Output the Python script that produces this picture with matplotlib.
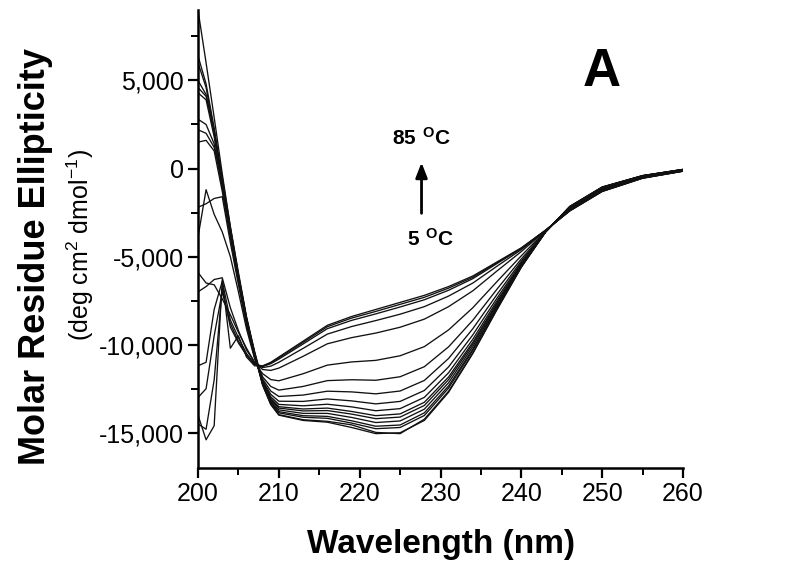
import matplotlib
matplotlib.use("Agg")
import matplotlib.pyplot as plt
from matplotlib.ticker import MultipleLocator, FuncFormatter

plt.rcParams['font.family'] = ['Liberation Sans', 'DejaVu Sans']
plt.rcParams['axes.unicode_minus'] = False
plt.rcParams['mathtext.fontset'] = 'custom'
plt.rcParams['mathtext.rm'] = 'Liberation Sans'
plt.rcParams['mathtext.bf'] = 'Liberation Sans:bold'

# wavelength grid (nm)
wavelength = [200, 201, 202, 203, 204, 205, 206, 207, 208, 209, 210, 213, 216, 219,
              222, 225, 228, 231, 234, 237, 240, 243, 246, 250, 255, 260]

# molar residue ellipticity, one spectrum per temperature (5 -> 85 C)
cd_05c = [9000, 6000, 2900, -300, -3300, -6000, -8500, -10600, -12300, -13400, -14000, -14300, -14400,
          -14700, -15050, -15000, -14300, -12700, -10500, -8000, -5600, -3600, -2150, -1050, -400, -50]
cd_10c = [6400, 4800, 2300, -700, -3500, -6100, -8500, -10500, -12290, -13380, -13970, -14260, -14350,
          -14550, -14980, -15050, -14230, -12640, -10460, -7970, -5590, -3600, -2150, -1050, -400, -50]
cd_15c = [6000, 4600, 2100, -900, -3600, -6200, -8600, -10500, -12260, -13300, -13870, -14120, -14180,
          -14450, -14770, -14700, -14020, -12460, -10320, -7890, -5560, -3600, -2160, -1060, -410, -50]
cd_20c = [5000, 4200, 2000, -800, -3500, -6100, -8500, -10500, -12230, -13260, -13800, -14030, -14070,
          -14320, -14630, -14560, -13870, -12340, -10240, -7840, -5530, -3590, -2170, -1070, -410, -60]
cd_25c = [4600, 4100, 2200, -500, -3300, -5900, -8400, -10400, -12200, -13180, -13700, -13900, -13900,
          -14130, -14420, -14330, -13660, -12160, -10100, -7760, -5500, -3590, -2180, -1080, -420, -60]
cd_30c = [4300, 3900, 1800, -1000, -3700, -6200, -8600, -10500, -12170, -13110, -13600, -13760, -13740,
          -13940, -14200, -14110, -13450, -11980, -9970, -7680, -5470, -3590, -2190, -1090, -420, -60]
cd_35c = [2800, 2500, 1400, -1100, -3800, -6300, -8700, -10600, -12140, -13050, -13520, -13650, -13600,
          -13790, -14030, -13930, -13270, -11830, -9860, -7610, -5440, -3590, -2190, -1090, -430, -60]
cd_40c = [2200, 2000, 1200, -700, -3400, -6100, -8500, -10400, -12100, -12960, -13390, -13470, -13380,
          -13530, -13750, -13630, -12990, -11590, -9690, -7500, -5400, -3580, -2210, -1110, -440, -70]
cd_45c = [1500, 1600, 1000, -1300, -3900, -6400, -8800, -10700, -12040, -12820, -13210, -13220, -13080,
          -13190, -13360, -13220, -12600, -11260, -9440, -7350, -5340, -3580, -2220, -1120, -450, -70]
cd_50c = [-3900, -1200, -2600, -3600, -5000, -7000, -9100, -10800, -11950, -12630, -12940, -12860, -12640,
          -12680, -12790, -12630, -12030, -10780, -9090, -7140, -5250, -3570, -2250, -1150, -460, -80]
cd_55c = [-2200, -2000, -1700, -1600, -4200, -6600, -8900, -10700, -11830, -12370, -12580, -12370, -12040,
          -11990, -12020, -11820, -11250, -10120, -8610, -6840, -5130, -3560, -2280, -1180, -480, -90]
cd_60c = [-5900, -6500, -6600, -7400, -8300, -9300, -10200, -11000, -11650, -11980, -12050, -11650, -11160,
          -10980, -10890, -10630, -10110, -9160, -7900, -6410, -4950, -3540, -2320, -1220, -500, -110]
cd_65c = [-7000, -6700, -6300, -6200, -7900, -9200, -10300, -11000, -11410, -11460, -11330, -10660, -9950,
          -9600, -9340, -9010, -8550, -7840, -6940, -5810, -4710, -3520, -2360, -1260, -520, -130]
cd_70c = [-11200, -11000, -8000, -6400, -8600, -9600, -10500, -11100, -11300, -11220, -11000, -10210, -9400,
          -8970, -8630, -8270, -7840, -7240, -6500, -5540, -4600, -3510, -2380, -1280, -530, -140]
cd_75c = [-13000, -12500, -9500, -7000, -8800, -9800, -10600, -11100, -11240, -11080, -10820, -9960, -9090,
          -8620, -8250, -7860, -7450, -6910, -6250, -5390, -4540, -3500, -2390, -1290, -540, -150]
cd_80c = [-14500, -14800, -12000, -6800, -9000, -9900, -10600, -11100, -11220, -11040, -10750, -9870, -8980,
          -8490, -8110, -7710, -7310, -6790, -6170, -5340, -4520, -3500, -2400, -1300, -550, -150]
cd_85c = [-14000, -15400, -14600, -6300, -10200, -9500, -10700, -11200, -11200, -11000, -10700, -9800, -8900,
          -8400, -8000, -7600, -7200, -6700, -6100, -5300, -4500, -3500, -2400, -1300, -550, -150]

spectra = [cd_05c, cd_10c, cd_15c, cd_20c, cd_25c, cd_30c, cd_35c, cd_40c, cd_45c,
           cd_50c, cd_55c, cd_60c, cd_65c, cd_70c, cd_75c, cd_80c, cd_85c]

fig = plt.figure(figsize=(8, 5.71), dpi=100)
ax = fig.add_axes([0.2475, 0.1804, 0.6063, 0.8021])

for s in spectra:
    ax.plot(wavelength, s, color='#111111', lw=0.95)

ax.set_xlim(200, 260)
ax.set_ylim(-17000, 9000)

ax.spines['top'].set_visible(False)
ax.spines['right'].set_visible(False)
ax.spines['left'].set_linewidth(1.8)
ax.spines['bottom'].set_linewidth(1.8)

ax.xaxis.set_major_locator(MultipleLocator(10))
ax.xaxis.set_minor_locator(MultipleLocator(5))
ax.yaxis.set_major_locator(MultipleLocator(5000))
ax.yaxis.set_minor_locator(MultipleLocator(2500))
ax.yaxis.set_major_formatter(FuncFormatter(lambda v, p: '{:,.0f}'.format(v)))
ax.tick_params(which='major', direction='out', length=7, width=1.6, labelsize=18, pad=3)
ax.tick_params(which='minor', direction='out', length=5, width=1.4)

ax.set_xlabel('Wavelength (nm)', fontsize=24, fontweight='bold', labelpad=17)
fig.text(0.045, 0.55, 'Molar Residue Ellipticity', rotation=90, fontsize=26,
         fontweight='bold', ha='center', va='center')
fig.text(0.1, 0.57, r'(deg cm$^2$ dmol$^{-1}$)', rotation=90, fontsize=18,
         ha='center', va='center')

ax.text(250, 5500, 'A', fontsize=38, fontweight='bold', ha='center', va='center')
ax.text(227.6, 1750, r'$\mathbf{85\ ^{O}C}$', fontsize=15, ha='center', va='center')
ax.text(228.8, -4000, r'$\mathbf{5\ ^{O}C}$', fontsize=15, ha='center', va='center')
ax.annotate('', xy=(227.65, 500), xytext=(227.65, -2700),
            arrowprops=dict(arrowstyle='-|>,head_width=0.35,head_length=0.9', color='black', lw=2))

fig.savefig('out.png', dpi=100)
